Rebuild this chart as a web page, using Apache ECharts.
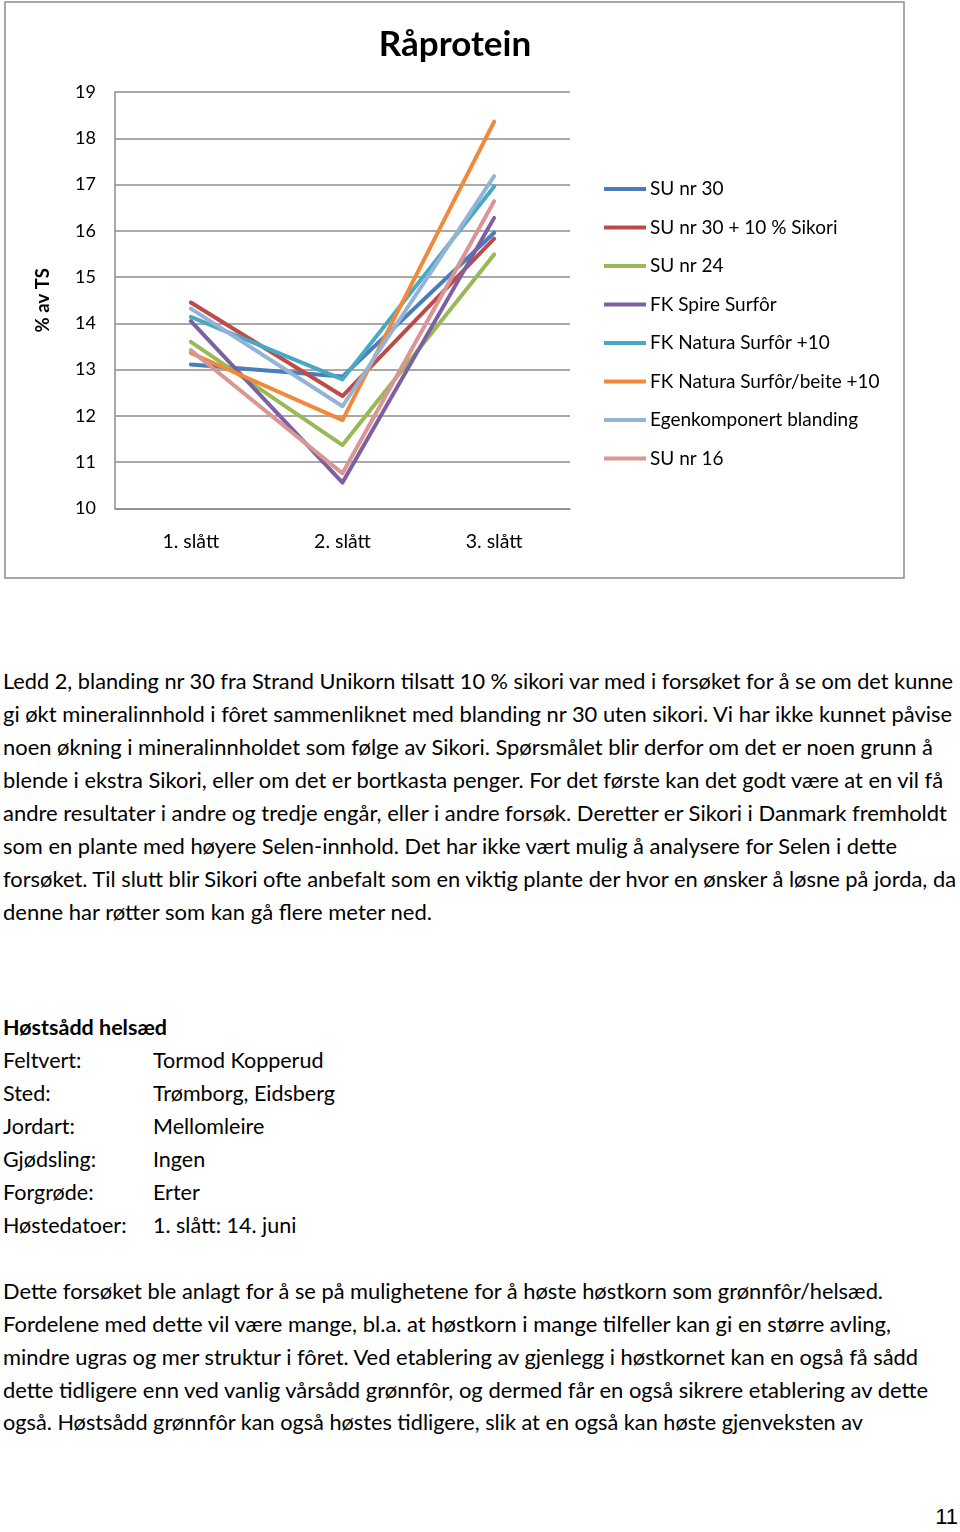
<!DOCTYPE html>
<html>
<head>
<meta charset="utf-8">
<script src="https://cdn.jsdelivr.net/npm/echarts@6/dist/echarts.min.js"></script>
<style>
  html, body { margin:0; padding:0; background:#fff; }
  body { width:960px; height:1532px; position:relative; overflow:hidden; font-family: Lato, 'Open Sans', sans-serif; color:#000; }
  #chart { position:absolute; left:0; top:0; width:960px; height:590px; }
  .ln { position:absolute; left:3px; white-space:nowrap; font-size:21px; line-height:33px; height:33px; transform-origin:0 50%; }
  .lbl { position:absolute; left:3px; white-space:nowrap; font-size:21.5px; line-height:33px; }
  .val { position:absolute; left:153px; white-space:nowrap; font-size:21.5px; line-height:33px; }
  .pg { position:absolute; right:2px; top:1504px; font-family:'Liberation Sans', Arial, sans-serif; font-size:22px; }
</style>
</head>
<body>
<div id="chart"></div>

<div class="ln" data-r="953" style="top:664px">Ledd 2, blanding nr 30 fra Strand Unikorn tilsatt 10 % sikori var med i forsøket for å se om det kunne</div>
<div class="ln" data-r="952" style="top:697px">gi økt mineralinnhold i fôret sammenliknet med blanding nr 30 uten sikori. Vi har ikke kunnet påvise</div>
<div class="ln" data-r="933" style="top:730px">noen økning i mineralinnholdet som følge av Sikori. Spørsmålet blir derfor om det er noen grunn å</div>
<div class="ln" data-r="943" style="top:763px">blende i ekstra Sikori, eller om det er bortkasta penger. For det første kan det godt være at en vil få</div>
<div class="ln" data-r="947" style="top:796px">andre resultater i andre og tredje engår, eller i andre forsøk. Deretter er Sikori i Danmark fremholdt</div>
<div class="ln" data-r="897" style="top:829px">som en plante med høyere Selen-innhold. Det har ikke vært mulig å analysere for Selen i dette</div>
<div class="ln" data-r="956" style="top:862px">forsøket. Til slutt blir Sikori ofte anbefalt som en viktig plante der hvor en ønsker å løsne på jorda, da</div>
<div class="ln" data-r="432" style="top:895px">denne har røtter som kan gå flere meter ned.</div>

<div class="lbl" style="top:1011px;font-weight:bold">Høstsådd helsæd</div>
<div class="lbl" style="top:1044px">Feltvert:</div><div class="val" style="top:1044px">Tormod Kopperud</div>
<div class="lbl" style="top:1077px">Sted:</div><div class="val" style="top:1077px">Trømborg, Eidsberg</div>
<div class="lbl" style="top:1110px">Jordart:</div><div class="val" style="top:1110px">Mellomleire</div>
<div class="lbl" style="top:1143px">Gjødsling:</div><div class="val" style="top:1143px">Ingen</div>
<div class="lbl" style="top:1176px">Forgrøde:</div><div class="val" style="top:1176px">Erter</div>
<div class="lbl" style="top:1209px">Høstedatoer:</div><div class="val" style="top:1209px">1. slått: 14. juni</div>

<div class="ln" data-r="883" style="top:1274px">Dette forsøket ble anlagt for å se på mulighetene for å høste høstkorn som grønnfôr/helsæd.</div>
<div class="ln" data-r="891" style="top:1307px">Fordelene med dette vil være mange, bl.a. at høstkorn i mange tilfeller kan gi en større avling,</div>
<div class="ln" data-r="918" style="top:1340px">mindre ugras og mer struktur i fôret. Ved etablering av gjenlegg i høstkornet kan en også få sådd</div>
<div class="ln" data-r="928" style="top:1373px">dette tidligere enn ved vanlig vårsådd grønnfôr, og dermed får en også sikrere etablering av dette</div>
<div class="ln" data-r="863" style="top:1405px">også. Høstsådd grønnfôr kan også høstes tidligere, slik at en også kan høste gjenveksten av</div>

<div class="pg">11</div>

<script>
// ---- data ----
const categories = ['1. slått', '2. slått', '3. slått'];
const yTicks = { min: 10, max: 19, interval: 1 };
const seriesNames = [
  'SU nr 30',
  'SU nr 30 + 10 % Sikori',
  'SU nr 24',
  'FK Spire Surfôr',
  'FK Natura Surfôr +10',
  'FK Natura Surfôr/beite +10',
  'Egenkomponert blanding',
  'SU nr 16'
];
const suNr30       = [13.11, 12.85, 15.96];
const suNr30Sikori = [14.45, 12.43, 15.83];
const suNr24       = [13.60, 11.37, 15.49];
const fkSpire      = [14.05, 10.56, 16.28];
const fkNatura     = [14.14, 12.79, 16.96];
const fkNaturaBeite= [13.36, 11.91, 18.36];
const egenkomp     = [14.32, 12.21, 17.18];
const suNr16       = [13.42, 10.76, 16.64];
const seriesData = [suNr30, suNr30Sikori, suNr24, fkSpire, fkNatura, fkNaturaBeite, egenkomp, suNr16];
const colors = ['#4A7EBB', '#BE4B48', '#98B954', '#7D60A0', '#46AAC5', '#F08A3A', '#95B3D7', '#D99694'];

// ---- fit text lines to reference widths ----
document.querySelectorAll('.ln').forEach(el => {
  const target = parseFloat(el.dataset.r) - 3;
  const w = el.getBoundingClientRect().width;
  if (w > 0) el.style.transform = 'scaleX(' + (target / w) + ')';
});

const font = 'Lato, "Open Sans", sans-serif';
const chart = echarts.init(document.getElementById('chart'), null, { renderer: 'canvas' });
chart.setOption({
  animation: false,
  color: colors,
  textStyle: { fontFamily: font },
  title: {
    text: 'Råprotein',
    left: 450,
    textAlign: 'center',
    top: 22,
    textStyle: { fontFamily: font, fontWeight: 'bold', fontSize: 35, color: '#000' }
  },
  graphic: [{
    type: 'rect',
    shape: { x: 5, y: 2, width: 899, height: 576 },
    style: { fill: 'none', stroke: '#8c8c8c', lineWidth: 1.5 },
    silent: true
  }],
  legend: {
    orient: 'vertical',
    left: 599,
    top: 174,
    itemWidth: 42,
    itemHeight: 4,
    itemGap: 18.5,
    icon: 'rect',
    data: seriesNames,
    textStyle: { fontFamily: font, fontSize: 19, color: '#000', lineHeight: 20, padding: [0, 0, 0, -1] }
  },
  grid: { left: 115, top: 92, width: 455, height: 416.5 },
  xAxis: {
    type: 'category',
    data: categories,
    boundaryGap: true,
    axisLine: { show: true, lineStyle: { color: '#8c8c8c', width: 1.5 } },
    axisTick: { show: false },
    axisLabel: { color: '#000', fontSize: 19.5, margin: 23, fontFamily: font }
  },
  yAxis: {
    type: 'value',
    min: yTicks.min,
    max: yTicks.max,
    interval: yTicks.interval,
    name: '% av TS',
    nameLocation: 'middle',
    nameRotate: 90,
    nameGap: 62,
    nameTextStyle: { fontFamily: font, fontWeight: 'bold', fontSize: 18.5, color: '#000' },
    axisLine: { show: true, lineStyle: { color: '#8c8c8c', width: 1.5 } },
    axisTick: { show: false },
    splitLine: { show: true, lineStyle: { color: '#8c8c8c', width: 1.5 } },
    axisLabel: { color: '#000', fontSize: 18, margin: 19, fontFamily: font }
  },
  series: seriesNames.map((name, i) => ({
    name: name,
    type: 'line',
    data: seriesData[i],
    symbol: 'none',
    lineStyle: { width: 4, color: colors[i], cap: 'round', join: 'round' },
    itemStyle: { color: colors[i] }
  }))
});
</script>
</body>
</html>
